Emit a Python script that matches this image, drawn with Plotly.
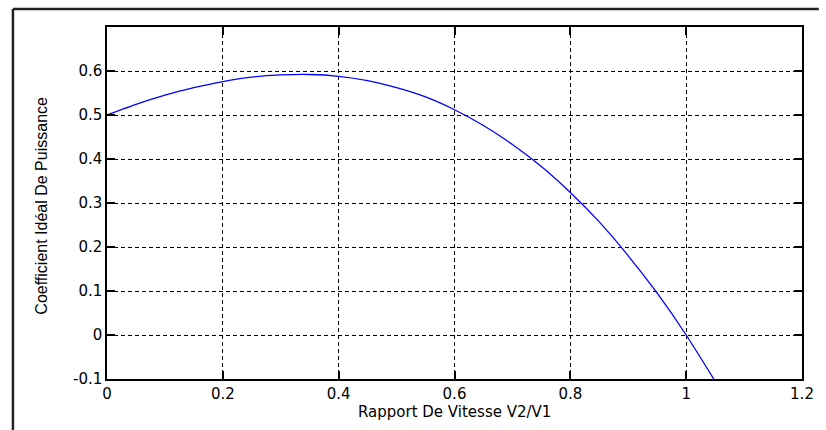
import plotly.graph_objects as go

# Speed ratio V2/V1 and ideal power coefficient
speed_ratio = [0.00, 0.05, 0.10, 0.15, 0.20, 0.25, 0.30, 0.35, 0.40, 0.45, 0.50,
               0.55, 0.60, 0.65, 0.70, 0.75, 0.80, 0.85, 0.90, 0.95, 1.00, 1.05]
power_coeff = [0.500, 0.524, 0.545, 0.562, 0.576, 0.586, 0.591, 0.592, 0.588, 0.578, 0.562,
               0.541, 0.512, 0.476, 0.433, 0.383, 0.324, 0.257, 0.180, 0.095, 0.000, -0.105]

x_ticks = [0, 0.2, 0.4, 0.6, 0.8, 1.0, 1.2]
x_tick_text = ["0", "0.2", "0.4", "0.6", "0.8", "1", "1.2"]
y_ticks = [-0.1, 0, 0.1, 0.2, 0.3, 0.4, 0.5, 0.6]
y_tick_text = ["-0.1", "0", "0.1", "0.2", "0.3", "0.4", "0.5", "0.6"]

W, H = 826, 430
L, R, T, B = 107, 17, 27, 51
pw, ph = W - L - R, H - T - B


def px_x(px):
    return (px - L) / pw


def px_y(py):
    return (H - B - py) / ph


fig = go.Figure()
fig.add_trace(go.Scatter(
    x=speed_ratio, y=power_coeff, mode="lines",
    line=dict(color="#0000ff", width=1.3, shape="spline", smoothing=0.6),
    hoverinfo="skip", showlegend=False,
))

axis_common = dict(
    showline=True, linecolor="black", linewidth=1.5, mirror="ticks",
    ticks="inside", ticklen=8, tickwidth=1.5, tickcolor="black",
    showgrid=True, gridcolor="black", gridwidth=1.4, griddash="4px,3px",
    zeroline=False,
    tickfont=dict(family="DejaVu Sans", size=15, color="black"),
)

fig.update_xaxes(range=[0, 1.2], tickmode="array", tickvals=x_ticks,
                 ticktext=x_tick_text, **axis_common)
fig.update_yaxes(range=[-0.1, 0.7], tickmode="array", tickvals=y_ticks,
                 ticktext=y_tick_text, **axis_common)

# Outer figure frame: top and left edges (the rest is cut by the page)
frame = dict(color="#222222", width=2.5)
fig.add_shape(type="line", xref="paper", yref="paper",
              x0=px_x(12), x1=px_x(W), y0=px_y(9), y1=px_y(9), line=frame)
fig.add_shape(type="line", xref="paper", yref="paper",
              x0=px_x(12), x1=px_x(12), y0=px_y(9), y1=px_y(H), line=frame)

fig.add_annotation(text="Rapport De Vitesse V2/V1", xref="paper", yref="paper",
                   x=0.5, y=px_y(412), xanchor="center", yanchor="middle",
                   showarrow=False,
                   font=dict(family="DejaVu Sans", size=15, color="black"))
fig.add_annotation(text="Coefficient Idéal De Puissance", xref="paper", yref="paper",
                   x=px_x(40), y=px_y(206), xanchor="center", yanchor="middle",
                   showarrow=False, textangle=-90,
                   font=dict(family="Liberation Sans", size=16, color="black"))

fig.update_layout(
    width=W, height=H, autosize=False,
    margin=dict(l=L, r=R, t=T, b=B),
    paper_bgcolor="white", plot_bgcolor="white",
    showlegend=False,
)

fig.write_html(
    "out.html",
    config={"responsive": False, "displayModeBar": False},
    post_script=(
        "document.documentElement.style.overflow='hidden';"
        "document.body.style.margin='0';"
        "document.body.style.overflow='hidden';"
    ),
)
